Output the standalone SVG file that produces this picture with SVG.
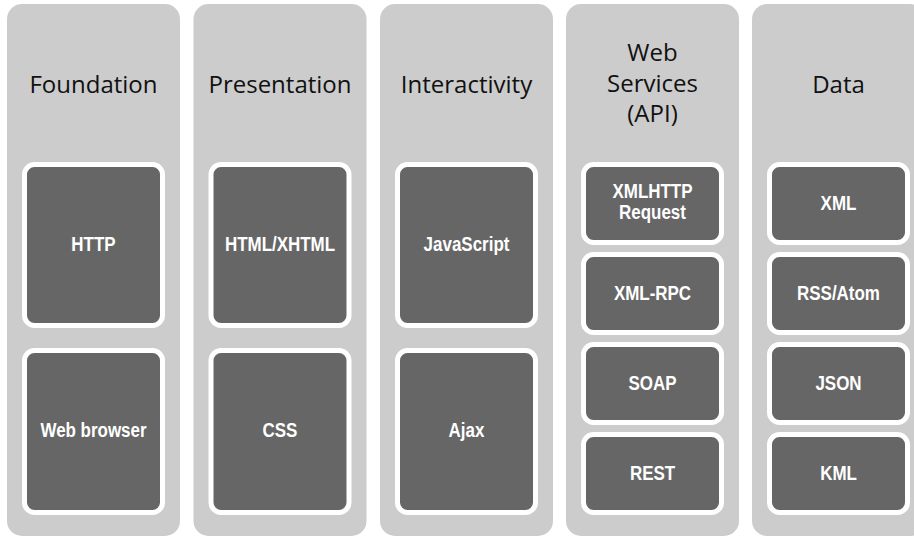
<svg xmlns="http://www.w3.org/2000/svg" width="914" height="537" viewBox="0 0 914 537">
<style>
.panel{fill:#cccccc}
.box{fill:#666666;stroke:#ffffff;stroke-width:5}
.title{font-family:"Open Sans","Noto Sans",sans-serif;font-size:24px;fill:#111111;text-anchor:middle}
.lbl{font-family:"Liberation Sans",Arial,sans-serif;font-weight:bold;font-size:19.5px;fill:#ffffff;text-anchor:middle}
</style>
<rect width="914" height="537" fill="#ffffff"/>
<g id="col-foundation">
<rect class="panel" x="7" y="4" width="173" height="532" rx="15"/>
<text class="title" x="93.5" y="93">Foundation</text>
</g>
<g id="col-presentation">
<rect class="panel" x="193.5" y="4" width="173" height="532" rx="15"/>
<text class="title" x="280" y="93">Presentation</text>
</g>
<g id="col-interactivity">
<rect class="panel" x="380" y="4" width="173" height="532" rx="15"/>
<text class="title" x="466.5" y="93">Interactivity</text>
</g>
<g id="col-webservices">
<rect class="panel" x="566" y="4" width="173" height="532" rx="15"/>
<text class="title" x="652.5" y="61">Web</text>
<text class="title" x="652.5" y="92">Services</text>
<text class="title" x="652.5" y="122">(API)</text>
</g>
<g id="col-data">
<rect class="panel" x="752" y="4" width="173" height="532" rx="15"/>
<text class="title" x="838.5" y="93">Data</text>
</g>
<g id="http"><rect class="box" x="24.5" y="164.5" width="138" height="161" rx="10"/><text class="lbl" transform="translate(93.5,251) scale(0.87,1)">HTTP</text></g>
<g id="webbrowser"><rect class="box" x="24.5" y="350.5" width="138" height="162" rx="10"/><text class="lbl" transform="translate(93.5,437) scale(0.87,1)">Web browser</text></g>
<g id="html"><rect class="box" x="211" y="164.5" width="138" height="161" rx="10"/><text class="lbl" transform="translate(280,251) scale(0.87,1)">HTML/XHTML</text></g>
<g id="css"><rect class="box" x="211" y="350.5" width="138" height="162" rx="10"/><text class="lbl" transform="translate(280,437) scale(0.87,1)">CSS</text></g>
<g id="javascript"><rect class="box" x="397.5" y="164.5" width="138" height="161" rx="10"/><text class="lbl" transform="translate(466.5,251) scale(0.87,1)">JavaScript</text></g>
<g id="ajax"><rect class="box" x="397.5" y="350.5" width="138" height="162" rx="10"/><text class="lbl" transform="translate(466.5,437) scale(0.87,1)">Ajax</text></g>
<g id="xmlhttp"><rect class="box" x="583.5" y="164.5" width="138" height="78" rx="10"/><text class="lbl" transform="translate(652.5,198) scale(0.87,1)">XMLHTTP</text><text class="lbl" transform="translate(652.5,219) scale(0.87,1)">Request</text></g>
<g id="xmlrpc"><rect class="box" x="583.5" y="254.5" width="138" height="78" rx="10"/><text class="lbl" transform="translate(652.5,300) scale(0.87,1)">XML-RPC</text></g>
<g id="soap"><rect class="box" x="583.5" y="344.5" width="138" height="78" rx="10"/><text class="lbl" transform="translate(652.5,390) scale(0.87,1)">SOAP</text></g>
<g id="rest"><rect class="box" x="583.5" y="434.5" width="138" height="78" rx="10"/><text class="lbl" transform="translate(652.5,480) scale(0.87,1)">REST</text></g>
<g id="xml"><rect class="box" x="769.5" y="164.5" width="138" height="78" rx="10"/><text class="lbl" transform="translate(838.5,210) scale(0.87,1)">XML</text></g>
<g id="rss"><rect class="box" x="769.5" y="254.5" width="138" height="78" rx="10"/><text class="lbl" transform="translate(838.5,300) scale(0.87,1)">RSS/Atom</text></g>
<g id="json"><rect class="box" x="769.5" y="344.5" width="138" height="78" rx="10"/><text class="lbl" transform="translate(838.5,390) scale(0.87,1)">JSON</text></g>
<g id="kml"><rect class="box" x="769.5" y="434.5" width="138" height="78" rx="10"/><text class="lbl" transform="translate(838.5,480) scale(0.87,1)">KML</text></g>
<g id="connectors"/>
</svg>
